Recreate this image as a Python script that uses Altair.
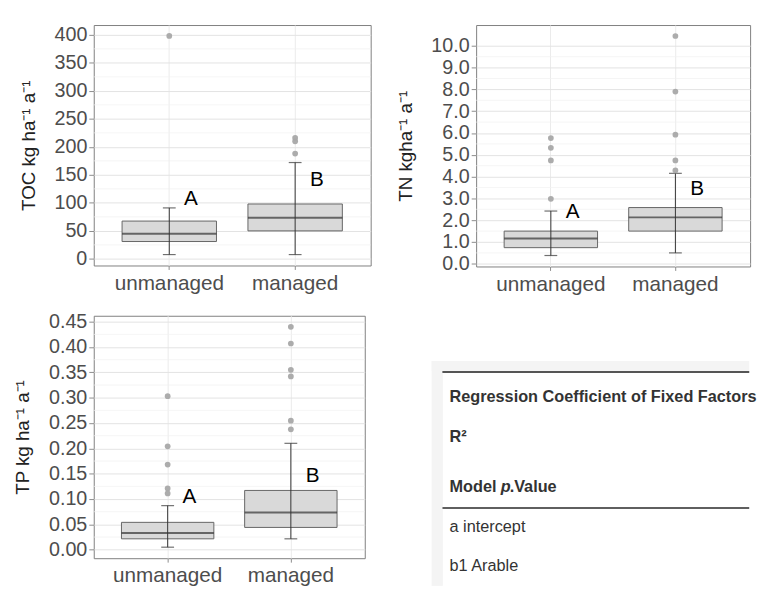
import altair as alt
import pandas as pd

FONT = "Liberation Sans"
categories = ["unmanaged", "managed"]
letters = ["A", "B"]

# TOC
toc_q1 = [31, 50]
toc_med = [45, 73.5]
toc_q3 = [67.5, 98]
toc_lo = [7.7, 7.7]
toc_hi = [91, 172]
toc_out_cat = ["unmanaged", "managed", "managed", "managed"]
toc_out_val = [398, 216, 210, 188]
toc_letter_y = [106, 141]
toc_ticks = [0, 50, 100, 150, 200, 250, 300, 350, 400]

# TN
tn_q1 = [0.74, 1.50]
tn_med = [1.16, 2.13]
tn_q3 = [1.50, 2.58]
tn_lo = [0.38, 0.50]
tn_hi = [2.42, 4.15]
tn_out_cat = ["unmanaged"] * 4 + ["managed"] * 5
tn_out_val = [5.77, 5.32, 4.74, 2.98, 10.45, 7.90, 5.92, 4.74, 4.28]
tn_letter_y = [2.37, 3.43]
tn_ticks = [0, 1, 2, 3, 4, 5, 6, 7, 8, 9, 10]

# TP
tp_q1 = [0.0215, 0.044]
tp_med = [0.033, 0.0736]
tp_q3 = [0.054, 0.117]
tp_lo = [0.005, 0.0215]
tp_hi = [0.087, 0.210]
tp_out_cat = ["unmanaged"] * 5 + ["managed"] * 6
tp_out_val = [0.303, 0.204, 0.168, 0.121, 0.111, 0.440, 0.407, 0.355, 0.342, 0.2546, 0.2376]
tp_letter_y = [0.103, 0.145]
tp_ticks = [0, 0.05, 0.10, 0.15, 0.20, 0.25, 0.30, 0.35, 0.40, 0.45]

# table
table_header = ["Regression Coefficient of Fixed Factors", "R²"]
table_body = ["a intercept", "b1 Arable"]


def panel(q1, med, q3, lo, hi, out_cat, out_val, letter_y, ticks, fmt, title, w, h):
    box = pd.DataFrame({"cat": categories, "q1": q1, "med": med, "q3": q3,
                        "lo": lo, "hi": hi, "letter": letters, "ly": letter_y})
    outl = pd.DataFrame({"cat": out_cat, "val": out_val})
    minor = pd.DataFrame({"v": [(a + b) / 2 for a, b in zip(ticks[:-1], ticks[1:])]})
    allv = list(lo) + list(hi) + list(out_val)
    span = max(allv) - min(allv)
    dom = [min(allv) - 0.05 * span, max(allv) + 0.05 * span]
    xs = alt.Scale(domain=categories, paddingInner=0, paddingOuter=0.1)
    ys = alt.Scale(domain=dom, nice=False, zero=False)
    xaxis = alt.Axis(title=None, labelAngle=0, labelFontSize=21, labelColor="#4d4d4d",
                     labelFont=FONT, tickColor="#8c8c8c", tickSize=4, domain=False,
                     grid=True, gridColor="#ebebeb", labelPadding=3)
    yaxis = alt.Axis(values=ticks, format=fmt, title=title, titleFont=FONT,
                     titleFontSize=19, titleFontWeight="normal", titleColor="#222222",
                     titlePadding=16, labelFont=FONT, labelFontSize=20,
                     labelColor="#4d4d4d", tickColor="#8c8c8c", tickSize=5,
                     domain=False, grid=True, gridColor="#e3e3e3", labelPadding=2)
    X = lambda: alt.X("cat:N", scale=xs, sort=categories, axis=xaxis)
    Y = lambda f: alt.Y(f, scale=ys, axis=yaxis)

    g_minor = alt.Chart(minor).mark_rule(color="#f0f0f0", strokeWidth=0.7).encode(
        y=Y("v:Q"))
    b = alt.Chart(box).mark_bar(width=alt.RelativeBandSize(0.75), fill="#d9d9d9",
                                stroke="#666666", strokeWidth=1).encode(
        x=X(), y=Y("q1:Q"), y2="q3:Q")
    m = alt.Chart(box).mark_tick(size=w * 0.75 / 2.2, thickness=2, color="#333333").encode(
        x=X(), y=Y("med:Q"))
    wh = alt.Chart(box).mark_rule(color="#333333", strokeWidth=1).encode(
        x=X(), y=Y("lo:Q"), y2="hi:Q")
    c1 = alt.Chart(box).mark_tick(size=13, thickness=1.2, color="#333333").encode(
        x=X(), y=Y("lo:Q"))
    c2 = alt.Chart(box).mark_tick(size=13, thickness=1.2, color="#333333").encode(
        x=X(), y=Y("hi:Q"))
    o = alt.Chart(outl).mark_circle(size=34, color="#a8a8a8", opacity=0.95).encode(
        x=X(), y=Y("val:Q"))
    t = alt.Chart(box).mark_text(dx=22, font=FONT, fontSize=21, color="black",
                                 align="center", baseline="middle").encode(
        x=X(), y=Y("ly:Q"), text="letter:N")
    return alt.layer(g_minor, b, m, wh, c1, c2, o, t).properties(
        width=w, height=h,
        view=alt.ViewBackground(stroke="#7f7f7f", strokeWidth=1, fill="white"))


toc = panel(toc_q1, toc_med, toc_q3, toc_lo, toc_hi, toc_out_cat, toc_out_val,
            toc_letter_y, toc_ticks, "d", "TOC kg ha⁻¹  a⁻¹", 281, 244)
tn = panel(tn_q1, tn_med, tn_q3, tn_lo, tn_hi, tn_out_cat, tn_out_val,
           tn_letter_y, tn_ticks, ".1f", "TN kgha⁻¹  a⁻¹", 278, 245)
tp = panel(tp_q1, tp_med, tp_q3, tp_lo, tp_hi, tp_out_cat, tp_out_val,
           tp_letter_y, tp_ticks, ".2f", "TP kg ha⁻¹  a⁻¹", 275, 246)

# table panel
TW, TH = 322, 274
GY = 46
TFS = 16.5
hdr = pd.DataFrame({"i": [0, 1], "txt": table_header})
body = pd.DataFrame({"i": [3, 4], "txt": table_body})
model = pd.DataFrame({"i": [2], "a": ["Model"], "p": ["p"], "v": [".Value"]})
rs = alt.Scale(domain=[0, 4], range=[GY + 37, GY + 37 + 4 * 40])
Yr = lambda: alt.Y("i:Q", scale=rs, axis=None)

gray1 = alt.Chart(hdr).mark_rect(color="#f4f4f4").encode(
    x=alt.value(0), x2=alt.value(11), y=alt.value(GY), y2=alt.value(TH))
gray2 = alt.Chart(hdr).mark_rect(color="#f4f4f4").encode(
    x=alt.value(0), x2=alt.value(TW), y=alt.value(GY), y2=alt.value(GY + 10))
line1 = alt.Chart(hdr).mark_rule(color="#555555", strokeWidth=2).encode(
    x=alt.value(11), x2=alt.value(TW), y=alt.value(GY + 11))
line2 = alt.Chart(hdr).mark_rule(color="#555555", strokeWidth=1.5).encode(
    x=alt.value(11), x2=alt.value(TW), y=alt.value(GY + 149))
th = alt.Chart(hdr).mark_text(font=FONT, fontSize=TFS, fontWeight="bold", color="#333333",
                              align="left", baseline="middle").encode(
    x=alt.value(18), y=Yr(), text="txt:N")
tm1 = alt.Chart(model).mark_text(font=FONT, fontSize=TFS, fontWeight="bold", color="#333333",
                                 align="left", baseline="middle", dy=11).encode(
    x=alt.value(18), y=Yr(), text="a:N")
tm2 = alt.Chart(model).mark_text(font=FONT, fontSize=TFS, fontWeight="bold", fontStyle="italic",
                                 color="#333333", align="left", baseline="middle", dy=11).encode(
    x=alt.value(70), y=Yr(), text="p:N")
tm3 = alt.Chart(model).mark_text(font=FONT, fontSize=TFS, fontWeight="bold", color="#333333",
                                 align="left", baseline="middle", dy=11).encode(
    x=alt.value(79), y=Yr(), text="v:N")
tb = alt.Chart(body).mark_text(font=FONT, fontSize=TFS, color="#333333",
                               align="left", baseline="middle", dy=11).encode(
    x=alt.value(18), y=Yr(), text="txt:N")
table = alt.layer(gray1, gray2, line1, line2, th, tm1, tm2, tm3, tb).properties(
    width=TW, height=TH, view=alt.ViewBackground(stroke="transparent", fill="white"))

top = alt.hconcat(toc, tn, spacing=24).resolve_scale(x="independent", y="independent")
bottom = alt.hconcat(tp, table, spacing=66).resolve_scale(x="independent", y="independent")
chart = alt.vconcat(top, bottom, spacing=16).resolve_scale(
    x="independent", y="independent").properties(
    padding={"left": 5, "top": 12, "right": 0, "bottom": 0},
    background="white")

chart.save("out.html", embed_options={"renderer": "svg", "actions": False})
